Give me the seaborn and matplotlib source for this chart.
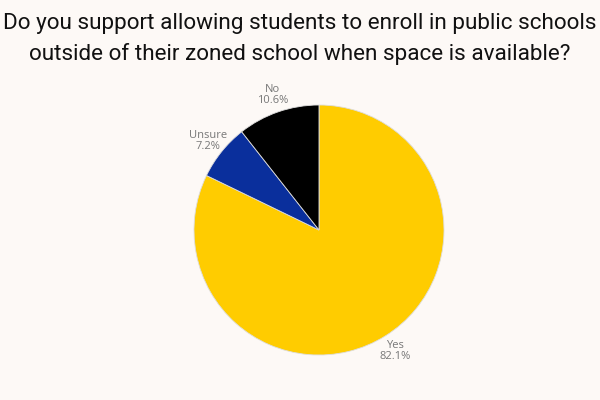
import seaborn as sns
import matplotlib.pyplot as plt

# survey answers
labels = ['Yes', 'Unsure', 'No']
shares = [82.1, 7.2, 10.6]
colors = ['#FFCC00', '#0A2F9C', '#000000']

sns.set_theme(style='white')
plt.rcParams['font.family'] = ['Roboto', 'DejaVu Sans']

fig = plt.figure(figsize=(6, 4), dpi=100)
fig.patch.set_facecolor('#FDF9F6')

ax = fig.add_axes([0.3233, 0.1125, 0.4167, 0.625])
ax.set_facecolor('#FDF9F6')
texts = [f'{l}\n{v}%' for l, v in zip(labels, shares)]
wedges, txt = ax.pie(shares, labels=texts, colors=colors, startangle=90,
                     counterclock=False, labeldistance=1.14,
                     wedgeprops=dict(linewidth=0.6, edgecolor='#DDDDDD'),
                     textprops=dict(color='#777777', fontsize=8,
                                    family=['Open Sans', 'DejaVu Sans'],
                                    ha='center', va='center', linespacing=1.0))
ax.set_xlim(-1, 1)
ax.set_ylim(-1, 1)
ax.set_aspect('equal')

fig.text(0.5, 0.902, 'Do you support allowing students to enroll in public schools\n'
         'outside of their zoned school when space is available?',
         ha='center', va='center', fontsize=16.2, color='#111111', linespacing=1.5)

plt.savefig('out.png', dpi=100, facecolor=fig.get_facecolor())
